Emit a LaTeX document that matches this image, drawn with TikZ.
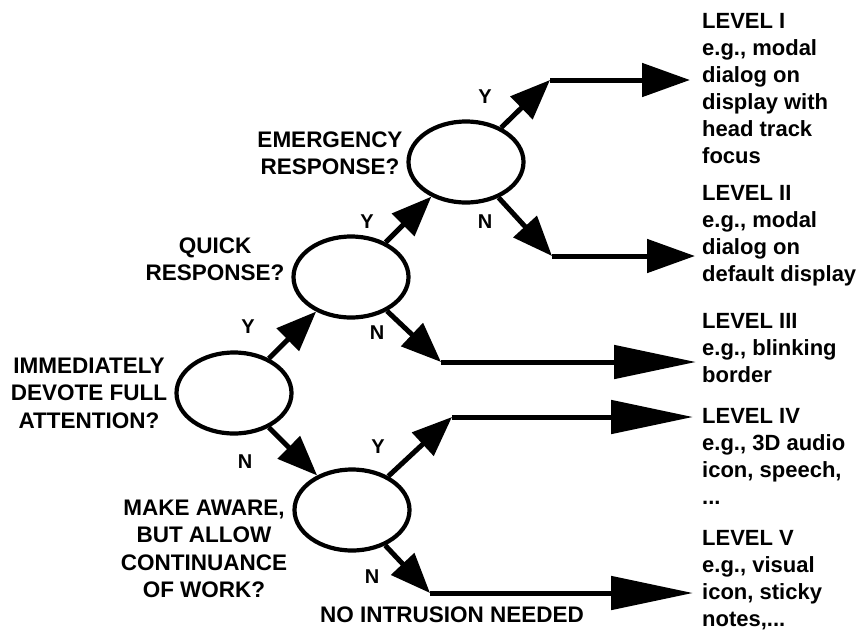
\documentclass[tikz,border=0pt]{standalone}
\usepackage{fontspec}
\setmainfont{Liberation Sans}
\usetikzlibrary{arrows.meta,shapes.geometric}
\begin{document}
\begin{tikzpicture}[x=1pt,y=-1pt,
 q/.style={ellipse,draw,line width=4.2pt,minimum width=115pt,minimum height=81pt,inner sep=0pt},
 lab/.style={font=\fontsize{22.5}{27.5}\selectfont\bfseries,align=center,inner sep=0pt},
 yn/.style={font=\fontsize{20}{22}\selectfont\bfseries,inner sep=0pt},
 lvl/.style={font=\fontsize{22}{27}\selectfont\bfseries,align=left,inner sep=0pt,anchor=north west},
 darr/.style={line width=5pt,-{Triangle[length=40pt,width=31pt]}},
 harr/.style={line width=5pt,-{Triangle[length=48pt,width=33pt]}},
 harrl/.style={line width=5pt,-{Triangle[length=82pt,width=33pt]}},
]
\useasboundingbox (0,0) rectangle (857,630);

% decision ellipses
\node[q] (e1) at (234,393) {};
\node[q] (e2) at (351,277) {};
\node[q] (e3) at (466,162) {};
\node[q] (e4) at (352,510) {};

% question texts
\node[lab] (q1) at (89,393) {IMMEDIATELY\\DEVOTE FULL\\ATTENTION?};
\node[lab] (q2) at (215,259) {QUICK\\RESPONSE?};
\node[lab] (q3) at (330,153) {EMERGENCY\\RESPONSE?};
\node[lab] (q4) at (204,549) {MAKE AWARE,\\BUT ALLOW\\CONTINUANCE\\OF WORK?};
\node[lab] (q5) at (452,615) {NO INTRUSION NEEDED};

% elbow points and arrow ends
\coordinate (c3y) at (550,80);
\coordinate (c3n) at (552,256);
\coordinate (c2n) at (441,362);
\coordinate (c4y) at (452,417);
\coordinate (c4n) at (430,593);
\coordinate (a1) at (690,80);
\coordinate (a2) at (695,256);
\coordinate (a3) at (696,362);
\coordinate (a4) at (693,417);
\coordinate (a5) at (693,593);

% diagonal arrows
\draw[darr] (e1) -- (e2);
\draw[darr] (e1) -- (e4);
\draw[darr] (e2) -- (e3);
\draw[darr] (e2) -- (c2n);
\draw[darr] (e3) -- (c3y);
\draw[darr] (e3) -- (c3n);
\draw[darr] (e4) -- (c4y);
\draw[darr] (e4) -- (c4n);

% horizontal arrows
\draw[harr] (c3y) -- (a1);
\draw[harr] (c3n) -- (a2);
\draw[harrl] (c2n) -- (a3);
\draw[harrl] (c4y) -- (a4);
\draw[harrl] (c4n) -- (a5);

% Y / N labels
\node[yn] (y1) at (248,327) {Y};
\node[yn] (n1) at (245,462) {N};
\node[yn] (y2) at (367,222) {Y};
\node[yn] (n2) at (377,333) {N};
\node[yn] (y3) at (485,97) {Y};
\node[yn] (n3) at (485,222) {N};
\node[yn] (y4) at (378,447) {Y};
\node[yn] (n4) at (372,577) {N};

% levels
\node[lvl] (l1) at (702,13) {LEVEL I\\e.g., modal\\dialog on\\display with\\head track\\focus};
\node[lvl] (l2) at (702,185) {LEVEL II\\e.g., modal\\dialog on\\default display};
\node[lvl] (l3) at (702,313) {LEVEL III\\e.g., blinking\\border};
\node[lvl] (l4) at (702,408) {LEVEL IV\\e.g., 3D audio\\icon, speech,\\...};
\node[lvl] (l5) at (702,530) {LEVEL V\\e.g., visual\\icon, sticky\\notes,...};
\end{tikzpicture}
\end{document}
